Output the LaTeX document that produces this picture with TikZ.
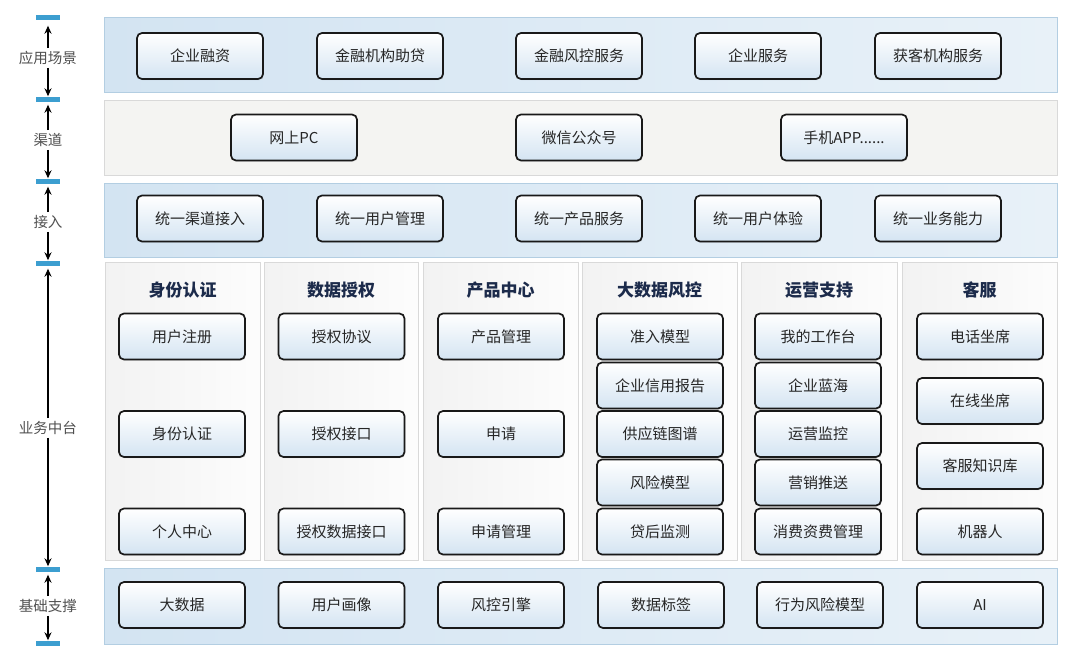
\documentclass[tikz,border=0pt]{standalone}
\usepackage{fontspec}
\newfontfamily\cjk{Noto Sans CJK SC}
\usetikzlibrary{arrows.meta,shadows}

\definecolor{bandblue}{HTML}{D3E4F2}
\definecolor{bandblueb}{HTML}{E8F1F8}
\definecolor{bandline}{HTML}{B3CEE2}
\definecolor{bandgray}{HTML}{F4F4F2}
\definecolor{grayline}{HTML}{D9D9D9}
\definecolor{boxbottom}{HTML}{D4E4F2}
\definecolor{tickblue}{HTML}{3C9ED0}
\definecolor{titleblue}{HTML}{1C2B4B}
\definecolor{boxtext}{HTML}{262626}
\definecolor{sidetext}{HTML}{505050}

\tikzset{
  band/.style={draw=bandline, line width=0.8pt, left color=bandblue, right color=bandblueb},
  grayband/.style={draw=grayline, line width=0.8pt, fill=bandgray},
  column/.style={draw=grayline, line width=0.8pt, left color=black!5, right color=black!1},
  item/.style={draw=black!90, line width=1.7pt, rounded corners=5pt,
    top color=white, bottom color=boxbottom,
    minimum width=126pt, minimum height=46pt, inner sep=0pt,
    font=\cjk\fontsize{15}{18}\selectfont, text=boxtext,
    drop shadow={opacity=0.25, shadow xshift=0.8pt, shadow yshift=-1.2pt}},
  coltitle/.style={font=\cjk\bfseries\fontsize{17}{20}\selectfont, text=titleblue},
  side/.style={font=\cjk\fontsize{14.5}{16}\selectfont, text=sidetext, inner sep=3pt},
  tick/.style={rectangle, fill=tickblue, minimum width=24pt, minimum height=5pt, inner sep=0pt},
  axis/.style={-{Stealth[length=8pt,width=7pt]}, line width=1.5pt, black}
}

\begin{document}
\begin{tikzpicture}[x=1pt, y=-1pt]

  % Bounding box of the scheme
  \useasboundingbox (0,0) rectangle (1080,667);
  \fill[white] (0,0) rectangle (1080,667);

  %%%%%%%%%%%%%%%%%%%%%%%%%%%%%%%%% Background of the layers %%%%%%%%%%%%%%%%%%%%%%%%%%%%%%%%%%%%
  \draw[band] (104,17) rectangle (1057,92);
  \draw[grayband] (104,100) rectangle (1057,175);
  \draw[band] (104,183) rectangle (1057,257);
  \draw[column] (105,262) rectangle (260,560);
  \draw[column] (264,262) rectangle (418,560);
  \draw[column] (423,262) rectangle (578,560);
  \draw[column] (582,262) rectangle (737,560);
  \draw[column] (741,262) rectangle (897,560);
  \draw[column] (902,262) rectangle (1057,560);
  \draw[band] (104,568) rectangle (1057,644);

  %%%%%%%%%%%%%%%%%%%%%%%%%%%%%%%%% Left axis %%%%%%%%%%%%%%%%%%%%%%%%%%%%%%%%%%%%
  \node[tick] (T1) at (48,17) {};
  \node[tick] (T2) at (48,99) {};
  \node[tick] (T3) at (48,181) {};
  \node[tick] (T4) at (48,263) {};
  \node[tick] (T5) at (48,569) {};
  \node[tick] (T6) at (48,643) {};

  \node[side] (L1) at (48,58) {应用场景};
  \node[side] (L2) at (48,140) {渠道};
  \node[side] (L3) at (48,222) {接入};
  \node[side] (L4) at (48,428) {业务中台};
  \node[side] (L5) at (48,606) {基础支撑};

  \draw[axis, shorten >=6pt] (L1) -- (T1);
  \draw[axis] (L1) -- (T2);
  \draw[axis, shorten >=3pt] (L2) -- (T2);
  \draw[axis] (L2) -- (T3);
  \draw[axis, shorten >=3pt] (L3) -- (T3);
  \draw[axis] (L3) -- (T4);
  \draw[axis, shorten >=3pt] (L4) -- (T4);
  \draw[axis] (L4) -- (T5);
  \draw[axis, shorten >=3pt] (L5) -- (T5);
  \draw[axis] (L5) -- (T6);

  %%%%%%%%%%%%%%%%%%%%%%%%%%%%%%%%% Scenes, channels, access %%%%%%%%%%%%%%%%%%%%%%%%%%%%%%%%%%%%
  \node[item] (S1) at (200,56) {企业融资};
  \node[item] (S2) at (380,56) {金融机构助贷};
  \node[item] (S3) at (579,56) {金融风控服务};
  \node[item] (S4) at (758,56) {企业服务};
  \node[item] (S5) at (938,56) {获客机构服务};

  \node[item] (C1) at (294,137.5) {网上PC};
  \node[item] (C2) at (579,137.5) {微信公众号};
  \node[item] (C3) at (844,137.5) {手机APP......};

  \node[item] (A1) at (200,218.5) {统一渠道接入};
  \node[item] (A2) at (380,218.5) {统一用户管理};
  \node[item] (A3) at (579,218.5) {统一产品服务};
  \node[item] (A4) at (758,218.5) {统一用户体验};
  \node[item] (A5) at (938,218.5) {统一业务能力};

  %%%%%%%%%%%%%%%%%%%%%%%%%%%%%%%%% Business middle platform %%%%%%%%%%%%%%%%%%%%%%%%%%%%%%%%%%%%
  \node[coltitle] (H1) at (182.5,290) {身份认证};
  \node[coltitle] (H2) at (341,290) {数据授权};
  \node[coltitle] (H3) at (500.5,290) {产品中心};
  \node[coltitle] (H4) at (659.5,290) {大数据风控};
  \node[coltitle] (H5) at (819,290) {运营支持};
  \node[coltitle] (H6) at (979.5,290) {客服};

  \node[item] (M11) at (182,336.5) {用户注册};
  \node[item] (M12) at (182,434) {身份认证};
  \node[item] (M13) at (182,531.5) {个人中心};

  \node[item] (M21) at (341.5,336.5) {授权协议};
  \node[item] (M22) at (341.5,434) {授权接口};
  \node[item] (M23) at (341.5,531.5) {授权数据接口};

  \node[item] (M31) at (501,336.5) {产品管理};
  \node[item] (M32) at (501,434) {申请};
  \node[item] (M33) at (501,531.5) {申请管理};

  \node[item] (M41) at (660,336.5) {准入模型};
  \node[item] (M42) at (660,385.5) {企业信用报告};
  \node[item] (M43) at (660,434) {供应链图谱};
  \node[item] (M44) at (660,482.5) {风险模型};
  \node[item] (M45) at (660,531.5) {贷后监测};

  \node[item] (M51) at (818,336.5) {我的工作台};
  \node[item] (M52) at (818,385.5) {企业蓝海};
  \node[item] (M53) at (818,434) {运营监控};
  \node[item] (M54) at (818,482.5) {营销推送};
  \node[item] (M55) at (818,531.5) {消费资费管理};

  \node[item] (M61) at (980,336.5) {电话坐席};
  \node[item] (M62) at (980,401) {在线坐席};
  \node[item] (M63) at (980,466) {客服知识库};
  \node[item] (M64) at (980,531.5) {机器人};

  %%%%%%%%%%%%%%%%%%%%%%%%%%%%%%%%% Base support %%%%%%%%%%%%%%%%%%%%%%%%%%%%%%%%%%%%
  \node[item] (B1) at (182,605) {大数据};
  \node[item] (B2) at (341.5,605) {用户画像};
  \node[item] (B3) at (501,605) {风控引擎};
  \node[item] (B4) at (661,605) {数据标签};
  \node[item] (B5) at (820,605) {行为风险模型};
  \node[item] (B6) at (980,605) {AI};

\end{tikzpicture}
\end{document}
